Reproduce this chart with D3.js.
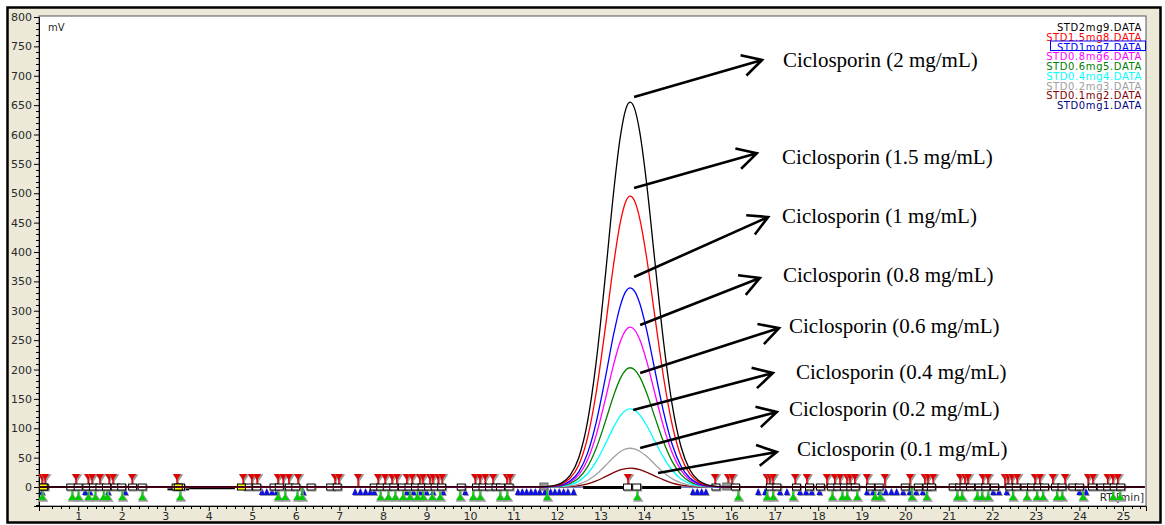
<!DOCTYPE html>
<html>
<head>
<meta charset="utf-8">
<script src="https://cdn.jsdelivr.net/npm/d3@7"></script>
<style>
  html, body { margin: 0; padding: 0; background: #ffffff; }
  svg { display: block; }
</style>
</head>
<body>
<svg id="chart" width="1165" height="525"></svg>
<script>
// Retention times (min) at which each trace is sampled
const retentionTimes = [0.1, 11.6, 11.9, 12.1, 12.3, 12.5, 12.7, 12.9, 13.1, 13.3, 13.45, 13.58, 13.68,
  13.78, 13.9, 14.05, 14.25, 14.45, 14.65, 14.85, 15.05, 15.25, 15.45, 15.7, 16.0, 25.5];

// Detector response (mV) for each standard
const std2mg   = [0, 0.2, 2.0, 6.6, 19.7, 49.8, 110.7, 212.9, 351.7, 501.7, 594.1, 643.2, 655, 644.5, 604.6, 522.0, 382.5, 245.6, 138.2, 68.1, 29.5, 11.1, 3.7, 0.8, 0, 0];
const std15mg  = [0, 0.1, 1.5, 5.0, 14.9, 37.6, 83.7, 160.9, 265.8, 379.2, 449.0, 486.1, 495, 487.1, 456.9, 394.5, 289.1, 185.6, 104.4, 51.5, 22.3, 8.4, 2.8, 0.6, 0, 0];
const std1mg   = [0, 0.1, 1.0, 3.4, 10.2, 25.8, 57.3, 110.2, 182.0, 259.7, 307.5, 332.9, 339, 333.6, 312.9, 270.2, 198.0, 127.1, 71.5, 35.3, 15.3, 5.8, 1.9, 0.4, 0, 0];
const std08mg  = [0, 0.1, 0.8, 2.7, 8.2, 20.7, 46.0, 88.4, 146.1, 208.4, 246.7, 267.1, 272, 267.6, 251.1, 216.8, 158.8, 102.0, 57.4, 28.3, 12.2, 4.6, 1.5, 0.3, 0, 0];
const std06mg  = [0, 0.1, 0.6, 2.0, 6.1, 15.4, 34.3, 66.0, 109.0, 155.5, 184.1, 199.3, 203, 199.8, 187.4, 161.8, 118.6, 76.1, 42.8, 21.1, 9.1, 3.5, 1.1, 0.2, 0, 0];
const std04mg  = [0, 0.0, 0.4, 1.3, 4.0, 10.1, 22.5, 43.2, 71.4, 101.9, 120.6, 130.6, 133, 130.9, 122.8, 106.0, 77.7, 49.9, 28.1, 13.8, 6.0, 2.3, 0.7, 0.2, 0, 0];
const std02mg  = [0, 0.0, 0.2, 0.7, 2.0, 5.0, 11.2, 21.5, 35.4, 50.6, 59.9, 64.8, 66, 64.9, 60.9, 52.6, 38.5, 24.8, 13.9, 6.9, 3.0, 1.1, 0.4, 0.1, 0, 0];
const std01mg  = [0, 0.0, 0.1, 0.3, 1.0, 2.4, 5.4, 10.4, 17.2, 24.5, 29.0, 31.4, 32, 31.5, 29.5, 25.5, 18.7, 12.0, 6.8, 3.3, 1.4, 0.5, 0.2, 0.0, 0, 0];
const std0mg   = [0, 0, 0, 0, 0, 0, 0, 0, 0, 0, 0, 0, 0, 0, 0, 0, 0, 0, 0, 0, 0, 0, 0, 0, 0, 0];

const seriesNames  = ["STD2mg9.DATA", "STD1.5mg8.DATA", "STD1mg7.DATA", "STD0.8mg6.DATA", "STD0.6mg5.DATA",
  "STD0.4mg4.DATA", "STD0.2mg3.DATA", "STD0.1mg2.DATA", "STD0mg1.DATA"];
const seriesValues = [std2mg, std15mg, std1mg, std08mg, std06mg, std04mg, std02mg, std01mg, std0mg];
const seriesColors = ["#000000", "#ff0000", "#0000ff", "#ff00ff", "#008000", "#00ffff", "#a0a0a0", "#800000", "#000080"];

// Axis ticks
const xTicks = d3.range(1, 26);
const yTicks = d3.range(0, 801, 50);

// Peak annotations: arrow start (min, mV), arrow tip (min, mV), label anchor (min, mV)
const annotationLabels = ["Ciclosporin (2 mg/mL)", "Ciclosporin (1.5 mg/mL)", "Ciclosporin (1 mg/mL)",
  "Ciclosporin (0.8 mg/mL)", "Ciclosporin (0.6 mg/mL)", "Ciclosporin (0.4 mg/mL)",
  "Ciclosporin (0.2 mg/mL)", "Ciclosporin (0.1 mg/mL)"];
const arrowStart = [[13.77, 663.8], [13.77, 508.9], [13.77, 357.4], [13.91, 275.7], [13.91, 194.0], [13.75, 131.1], [13.91, 66.4], [14.32, 23.8]];
const arrowTip   = [[16.71, 726.8], [16.59, 568.0], [16.85, 459.6], [16.66, 355.7], [17.10, 270.6], [16.96, 194.0], [17.05, 127.7], [17.05, 59.6]];
const labelAnchor = [[17.19, 714.9], [17.17, 549.8], [17.17, 449.3], [17.19, 348.9], [17.33, 262.1], [17.49, 183.8], [17.33, 120.8], [17.51, 52.8]];

// Integration event markers along the baseline (min)
const peakStartTimes = [0.17, 0.24, 0.95, 1.23, 1.32, 1.50, 1.71, 1.80, 2.24, 3.27, 4.79, 4.99, 5.11, 5.59, 5.71, 5.84, 6.05,
  6.90, 6.99, 7.43, 7.89, 8.05, 8.21, 8.32, 8.55, 8.67, 8.85, 8.92, 9.08, 9.15, 9.27, 9.36, 10.12, 10.23, 10.35, 10.53,
  10.85, 10.92, 13.63, 15.63, 15.93, 16.02, 16.82, 16.89, 16.96, 17.47, 17.74, 18.20, 18.38, 18.50, 18.66, 18.73, 18.84,
  19.12, 19.53, 20.11, 20.45, 20.52, 20.64, 21.26, 21.37, 21.44, 21.78, 21.90, 22.29, 22.36, 22.45, 22.57, 22.98, 23.09,
  23.39, 23.67, 24.20, 24.31, 24.65, 24.77, 24.88];
const peakEndTimes = [0.17, 0.86, 1.0, 1.23, 1.39, 1.58, 1.67, 2.01, 2.47, 3.34, 5.59, 5.75, 6.03, 6.14, 7.94, 8.12, 8.28,
  8.46, 8.62, 8.79, 8.92, 9.13, 9.31, 9.77, 10.07, 10.23, 10.69, 10.85, 11.77, 13.84, 16.16, 16.82, 16.96, 17.42, 18.32,
  18.55, 18.66, 18.89, 19.30, 19.42, 20.15, 20.49, 21.19, 21.30, 21.65, 21.76, 21.90, 22.47, 22.79, 23.02, 23.16, 23.48,
  23.60, 24.08, 24.77, 24.93];
const slopeTimes = [0.17, 1.16, 1.27, 1.69, 2.08, 5.22, 5.33, 5.45, 5.56, 6.17, 7.36, 7.48, 7.60, 7.71, 7.80, 8.55, 8.70,
  8.85, 9.0, 9.15, 9.38, 9.89, 11.10, 11.20, 11.30, 11.40, 11.50, 11.60, 11.72, 11.85, 11.95, 12.05, 12.15, 12.25, 12.38,
  15.12, 15.22, 15.32, 15.42, 16.62, 16.78, 17.12, 17.28, 17.58, 17.72, 17.85, 18.03, 19.12, 19.26, 19.42, 19.55, 19.68,
  19.80, 19.95, 20.10, 20.25, 20.40, 22.02, 22.15, 22.33, 24.0, 24.15];
const boundaryTimes = [0.22, 0.83, 1.0, 1.2, 1.35, 1.5, 1.65, 1.85, 2.0, 2.25, 2.47, 3.25, 3.35, 4.9, 5.1, 5.5, 5.62,
  5.85, 6.0, 6.35, 6.8, 6.95, 7.8, 7.95, 8.1, 8.25, 8.45, 8.6, 8.75, 8.9, 9.05, 9.2, 9.35, 9.8, 10.15, 10.3, 10.45, 10.6,
  10.7, 10.9, 13.62, 13.83, 15.65, 16.1, 16.9, 17.05, 17.5, 17.8, 18.05, 18.3, 18.45, 18.6, 18.75, 18.85, 19.2, 19.4,
  20.0, 20.3, 20.5, 20.6, 21.1, 21.25, 21.35, 21.5, 21.7, 21.85, 22.05, 22.4, 22.55, 22.75, 22.9, 23.05, 23.2, 23.45,
  23.6, 23.85, 24.0, 24.3, 24.5, 24.65, 24.8, 24.95];
const markedTimes = [0.2, 3.3, 4.75];
const grayBoundaryTimes = [11.7, 15.9];

// Integrated baseline segments: [start min, end min, level mV]
const baselineSegments = [[3.05, 3.55, -4], [3.55, 4.6, -2], [4.7, 6.1, 0], [8.3, 9.4, 0], [12.6, 14.85, -1]];

const svg = d3.select("#chart");
const W = 1165, H = 525;
const plot = { left: 39, top: 16, right: 1146, bottom: 506 };

const x = d3.scaleLinear().domain([0.1, 25.53]).range([plot.left, plot.right]);
const y = d3.scaleLinear().domain([-32.3, 800]).range([plot.bottom, 17]);

// Window frame
svg.append("rect").attr("x", 0).attr("y", 0).attr("width", W).attr("height", H).attr("fill", "#ffffff");
svg.append("rect").attr("x", 7.5).attr("y", 7.5).attr("width", 1153).attr("height", 515)
  .attr("fill", "#ece9d8").attr("stroke", "#000").attr("stroke-width", 2.5);

// Plot area
svg.append("rect").attr("x", plot.left).attr("y", plot.top)
  .attr("width", plot.right - plot.left).attr("height", plot.bottom - plot.top)
  .attr("fill", "#ffffff").attr("stroke", "#555").attr("stroke-width", 1);

svg.append("defs").append("clipPath").attr("id", "plotClip")
  .append("rect").attr("x", plot.left).attr("y", plot.top)
  .attr("width", plot.right - plot.left).attr("height", plot.bottom - plot.top);

const axisFont = "'DejaVu Sans', Verdana, sans-serif";

// Y axis
const yAxis = d3.axisLeft(y).tickValues(yTicks).tickSize(5).tickPadding(2);
const yG = svg.append("g").attr("transform", `translate(${plot.left},0)`).call(yAxis);
yG.select(".domain").attr("stroke", "#000");
yG.selectAll(".tick line").attr("stroke", "#000");
yG.selectAll(".tick text").attr("font-family", axisFont).attr("font-size", 11).attr("fill", "#2a2a2a");
const yMinor = d3.range(-30, 800, 10).filter(v => v % 50 !== 0);
svg.append("g").selectAll("line").data(yMinor).join("line")
  .attr("x1", plot.left - 3).attr("x2", plot.left)
  .attr("y1", d => Math.round(y(d)) + 0.5).attr("y2", d => Math.round(y(d)) + 0.5)
  .attr("stroke", "#000");

// X axis
const xAxis = d3.axisBottom(x).tickValues(xTicks).tickSize(5).tickPadding(1).tickFormat(d3.format("d"));
const xG = svg.append("g").attr("transform", `translate(0,${plot.bottom})`).call(xAxis);
xG.select(".domain").attr("stroke", "#000");
xG.selectAll(".tick line").attr("stroke", "#000");
xG.selectAll(".tick text").attr("font-family", axisFont).attr("font-size", 11).attr("fill", "#2a2a2a");
const xMinor = d3.range(2, 128).map(i => i / 5).filter(v => Math.abs(v - Math.round(v)) > 1e-6);
svg.append("g").selectAll("line").data(xMinor).join("line")
  .attr("x1", d => Math.round(x(d)) + 0.5).attr("x2", d => Math.round(x(d)) + 0.5)
  .attr("y1", plot.bottom).attr("y2", plot.bottom + 3)
  .attr("stroke", "#000");

// Units
svg.append("text").attr("x", 48).attr("y", 31).text("mV")
  .attr("font-family", axisFont).attr("font-size", 10).attr("fill", "#2a2a2a");
svg.append("text").attr("x", 1144).attr("y", 501).attr("text-anchor", "end").text("RT [min]")
  .attr("font-family", axisFont).attr("font-size", 10.5).attr("fill", "#2a2a2a");

const g = svg.append("g").attr("clip-path", "url(#plotClip)");
const y0 = y(0);

// Zero baseline of the blank run
g.append("line").attr("x1", x(0.1)).attr("x2", x(25.5)).attr("y1", y0).attr("y2", y0)
  .attr("stroke", "#000080").attr("stroke-width", 1);

// Integrated baseline segments
g.append("g").selectAll("line").data(baselineSegments).join("line")
  .attr("x1", d => x(d[0])).attr("x2", d => x(d[1]))
  .attr("y1", d => y(d[2])).attr("y2", d => y(d[2]))
  .attr("stroke", "#000").attr("stroke-width", d => d[0] > 12 ? 3 : 2);

// Markers
const shadow = "#9a9a9a";
function drawMarkers(times, drawFn) {
  const grp = g.append("g");
  times.forEach(t => drawFn(grp, x(t)));
}
// blue slope markers (small triangles under the baseline)
drawMarkers(slopeTimes, (grp, cx) => {
  grp.append("path").attr("d", `M${cx - 3 + 1},${y0 + 8 + 1}L${cx + 3 + 1},${y0 + 8 + 1}L${cx + 1},${y0 + 1 + 1}Z`).attr("fill", shadow);
  grp.append("path").attr("d", `M${cx - 3},${y0 + 8}L${cx + 3},${y0 + 8}L${cx},${y0 + 1}Z`).attr("fill", "#1010e0");
});
// red peak-start markers above the baseline
drawMarkers(peakStartTimes, (grp, cx) => {
  grp.append("path").attr("d", `M${cx + 1},${y0 - 10}V${y0 + 1}M${cx - 3},${y0 - 12}H${cx + 5}L${cx + 1},${y0 - 6}Z`)
    .attr("stroke", shadow).attr("stroke-width", 1.5).attr("fill", shadow);
  grp.append("path").attr("d", `M${cx},${y0 - 11}V${y0}`).attr("stroke", "#e00000").attr("stroke-width", 1.5);
  grp.append("path").attr("d", `M${cx - 4},${y0 - 13}H${cx + 4}L${cx},${y0 - 7}Z`).attr("fill", "#e00000");
});
// green peak-end markers below the baseline
drawMarkers(peakEndTimes, (grp, cx) => {
  grp.append("path").attr("d", `M${cx + 1},${y0 + 1}V${y0 + 12}M${cx - 3},${y0 + 14}H${cx + 5}L${cx + 1},${y0 + 8}Z`)
    .attr("stroke", shadow).attr("stroke-width", 1.5).attr("fill", shadow);
  grp.append("path").attr("d", `M${cx},${y0}V${y0 + 11}`).attr("stroke", "#00cc00").attr("stroke-width", 1.5);
  grp.append("path").attr("d", `M${cx - 4},${y0 + 13}H${cx + 4}L${cx},${y0 + 7}Z`).attr("fill", "#00cc00");
});
// hollow boundary squares on the baseline
drawMarkers(boundaryTimes, (grp, cx) => {
  grp.append("rect").attr("x", cx - 3).attr("y", y0 - 2).attr("width", 8).attr("height", 6).attr("fill", "none").attr("stroke", shadow);
  grp.append("rect").attr("x", cx - 4).attr("y", y0 - 3).attr("width", 8).attr("height", 6).attr("fill", "#fff").attr("stroke", "#000");
});
drawMarkers(markedTimes, (grp, cx) => {
  grp.append("rect").attr("x", cx - 4).attr("y", y0 - 3).attr("width", 8).attr("height", 6).attr("fill", "#ffff00").attr("stroke", "#000");
});
drawMarkers(grayBoundaryTimes, (grp, cx) => {
  grp.append("rect").attr("x", cx - 4).attr("y", y0 - 4).attr("width", 8).attr("height", 7).attr("fill", "#999").attr("stroke", "#666");
});

// Chromatogram traces (largest drawn last so it stays on top)
const line = d3.line().x(d => x(d[0])).y(d => y(d[1])).curve(d3.curveMonotoneX);
seriesValues.map((vals, i) => ({ i, pts: retentionTimes.map((t, k) => [t, vals[k]]) }))
  .reverse()
  .forEach(s => {
    if (s.i === seriesValues.length - 1) return; // blank run already drawn as the zero baseline
    g.append("path").datum(s.pts).attr("d", line)
      .attr("fill", "none").attr("stroke", seriesColors[s.i]).attr("stroke-width", 1.3);
  });

// Legend
const legend = svg.append("g");
seriesNames.forEach((name, i) => {
  const ty = 31 + i * 9.75;
  legend.append("text").attr("x", 1142).attr("y", ty).attr("text-anchor", "end")
    .attr("font-family", axisFont).attr("font-size", 10).attr("letter-spacing", 0.6)
    .attr("fill", seriesColors[i]).text(name);
  if (i === 2) {
    legend.append("rect").attr("x", 1050.5).attr("y", ty - 9.5).attr("width", 95).attr("height", 9.5)
      .attr("fill", "none").attr("stroke", "#0000ff").attr("stroke-width", 1);
  }
});

// Annotation arrows and labels
const ann = svg.append("g");
annotationLabels.forEach((label, i) => {
  const x1 = x(arrowStart[i][0]), y1 = y(arrowStart[i][1]);
  const x2 = x(arrowTip[i][0]), y2 = y(arrowTip[i][1]);
  const ang = Math.atan2(y2 - y1, x2 - x1);
  const len = 22, spread = 0.5;
  const hx1 = x2 - len * Math.cos(ang - spread), hy1 = y2 - len * Math.sin(ang - spread);
  const hx2 = x2 - len * Math.cos(ang + spread), hy2 = y2 - len * Math.sin(ang + spread);
  ann.append("path")
    .attr("d", `M${x1},${y1}L${x2},${y2}M${hx1},${hy1}L${x2},${y2}L${hx2},${hy2}`)
    .attr("fill", "none").attr("stroke", "#000").attr("stroke-width", 2.6)
    .attr("stroke-linejoin", "miter").attr("stroke-linecap", "butt");
  ann.append("text").attr("x", x(labelAnchor[i][0])).attr("y", y(labelAnchor[i][1]))
    .attr("font-family", "'Liberation Serif', 'Times New Roman', serif").attr("font-size", 21)
    .attr("fill", "#000").text(label);
});
</script>
</body>
</html>
